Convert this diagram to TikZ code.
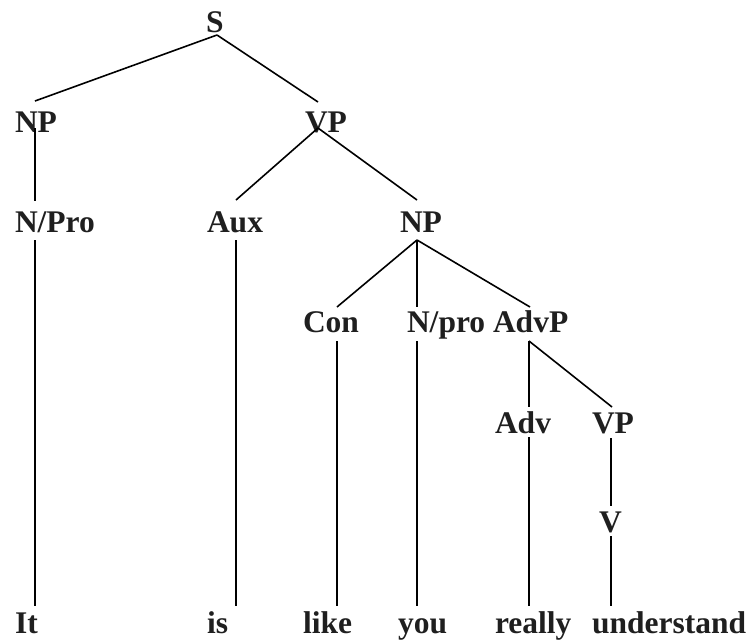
\documentclass[tikz,border=0pt]{standalone}
\usepackage{fontspec}
\setmainfont{Liberation Serif}
\begin{document}
\begin{tikzpicture}[x=1pt,y=-1pt,
  lbl/.style={anchor=base west,inner sep=0pt,outer sep=0pt,font=\fontsize{31.5}{34}\selectfont\bfseries,text=black!88},
  edge/.style={line width=1.6pt,black}]
\useasboundingbox (0,0) rectangle (750,643);
% labels
\node[lbl] (S) at (206,32) {S};
\node[lbl] (NPa) at (15,132) {NP};
\node[lbl] (VPa) at (305,132) {VP};
\node[lbl] (NPro) at (15,232) {N/Pro};
\node[lbl] (Aux) at (207,232) {Aux};
\node[lbl] (NPb) at (400,232) {NP};
\node[lbl] (Con) at (303,332) {Con};
\node[lbl] (Nprob) at (407,332) {N/pro};
\node[lbl] (AdvP) at (493,332) {AdvP};
\node[lbl] (Adv) at (495,433) {Adv};
\node[lbl] (VPb) at (592,433) {VP};
\node[lbl] (V) at (599,532) {V};
% words
\node[lbl] (w1) at (15,633) {It};
\node[lbl] (w2) at (207,633) {is};
\node[lbl] (w3) at (303,633) {like};
\node[lbl] (w4) at (398,633) {you};
\node[lbl] (w5) at (495,633) {really};
\node[lbl] (w6) at (592,633) {understand};
% connectors
\draw[edge] ([shift={(11,3)}]S.base west) -- ([shift={(20,-31)}]NPa.base west);
\draw[edge] ([shift={(11,3)}]S.base west) -- ([shift={(13,-30)}]VPa.base west);
\draw[edge] ([shift={(20,-4)}]NPa.base west) -- ([shift={(20,-31)}]NPro.base west);
\draw[edge] ([shift={(13,-4)}]VPa.base west) -- ([shift={(29,-32)}]Aux.base west);
\draw[edge] ([shift={(13,-4)}]VPa.base west) -- ([shift={(17,-32)}]NPb.base west);
\draw[edge] ([shift={(20,8)}]NPro.base west) -- ([shift={(20,-27)}]w1.base west);
\draw[edge] ([shift={(29,8)}]Aux.base west) -- ([shift={(29,-27)}]w2.base west);
\draw[edge] ([shift={(17,8)}]NPb.base west) -- ([shift={(34,-25)}]Con.base west);
\draw[edge] ([shift={(17,8)}]NPb.base west) -- ([shift={(10,-25)}]Nprob.base west);
\draw[edge] ([shift={(17,8)}]NPb.base west) -- ([shift={(37,-25)}]AdvP.base west);
\draw[edge] ([shift={(34,9)}]Con.base west) -- ([shift={(34,-27)}]w3.base west);
\draw[edge] ([shift={(10,9)}]Nprob.base west) -- ([shift={(19,-27)}]w4.base west);
\draw[edge] ([shift={(36,9)}]AdvP.base west) -- ([shift={(34,-26)}]Adv.base west);
\draw[edge] ([shift={(36,9)}]AdvP.base west) -- ([shift={(20,-26)}]VPb.base west);
\draw[edge] ([shift={(34,4)}]Adv.base west) -- ([shift={(34,-27)}]w5.base west);
\draw[edge] ([shift={(19,5)}]VPb.base west) -- ([shift={(12,-26)}]V.base west);
\draw[edge] ([shift={(12,4)}]V.base west) -- ([shift={(19,-27)}]w6.base west);
\end{tikzpicture}
\end{document}
